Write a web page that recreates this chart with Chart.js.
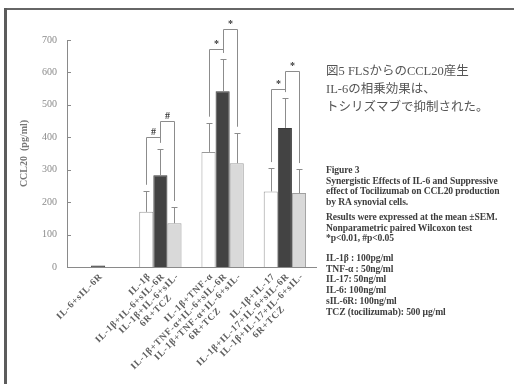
<!DOCTYPE html>
<html lang="ja">
<head>
<meta charset="utf-8">
<title>CCL20 production by RA synovial cells</title>
<script src="https://cdn.jsdelivr.net/npm/chart.js@4.4.1/dist/chart.umd.min.js"></script>
<style>
  html, body { margin: 0; padding: 0; background: #fff; }
  #slide { position: relative; width: 514px; height: 384px; overflow: hidden; background: #fff; }
  #wrap { position: absolute; left: 0; top: 0; width: 514px; height: 384px; }
  .frame-top { position: absolute; left: 4px; top: 8px; width: 510px; height: 2px; background: #666; }
  .frame-left { position: absolute; left: 4px; top: 8px; width: 3px; height: 376px; background: #5c5c5c; }
  .note { position: absolute; left: 326px; color: #3e3e3e; font-family: "Liberation Serif", "Times New Roman", serif; font-weight: bold; white-space: nowrap; }
  .jp { top: 62px; font-family: "Liberation Serif", "Noto Sans CJK JP", serif; font-weight: normal; font-size: 12.5px; line-height: 18px; color: #555; }
  .small { font-size: 9.6px; line-height: 10.7px; letter-spacing: -0.1px; }
</style>
</head>
<body>
<div id="slide">
  <div id="wrap"><canvas id="chart"></canvas></div>
  <div class="frame-top"></div>
  <div class="frame-left"></div>

  <div class="note jp">図5 FLSからのCCL20産生<br>IL-6の相乗効果は、<br>トシリズマブで抑制された。</div>

  <div class="note small" style="top:165px;">Figure 3<br>Synergistic Effects of IL-6 and Suppressive<br>effect of Tocilizumab on CCL20 production<br>by RA synovial cells.</div>
  <div class="note small" style="top:212px;">Results were expressed at the mean ±SEM.<br>Nonparametric paired Wilcoxon test<br>*p&lt;0.01, #p&lt;0.05</div>
  <div class="note small" style="top:253px;">IL-1β : 100pg/ml<br>TNF-α : 50ng/ml<br>IL-17: 50ng/ml<br>IL-6: 100ng/ml<br>sIL-6R: 100ng/ml<br>TCZ (tocilizumab): 500 μg/ml</div>
</div>

<script>
// Stimulation groups (one category each)
const groups = ['IL-6+sIL-6R', 'IL-1β', 'IL-1β+TNF-α', 'IL-1β+IL-17'];

// CCL20 (pg/ml), mean per condition
const meanBase = [null, 170, 355, 233];      // cytokine alone
const meanIL6  = [5, 283, 542, 429];         // + IL-6/sIL-6R
const meanTCZ  = [null, 135, 320, 228];      // + IL-6/sIL-6R + tocilizumab

// SEM (upper error bars)
const semBase = [null, 65, 90, 72];
const semIL6  = [0, 82, 100, 92];
const semTCZ  = [null, 50, 94, 74];

// Condition names written under each bar
const namesBase = [null, 'IL-1β', 'IL-1β+TNF-α', 'IL-1β+IL-17'];
const namesIL6  = ['IL-6+sIL-6R', 'IL-1β+IL-6+sIL-6R', 'IL-1β+TNF-α+IL-6+sIL-6R', 'IL-1β+IL-17+IL-6+sIL-6R'];
const namesTCZ  = [null, ['IL-1β+IL-6+sIL-', '6R+TCZ'], ['IL-1β+TNF-α+IL-6+sIL-', '6R+TCZ'], ['IL-1β+IL-17+IL-6+sIL-', '6R+TCZ']];

// Y axis ticks
const yTicks = [0, 100, 200, 300, 400, 500, 600, 700];

// Significance brackets: group, left series, right series, bracket height (pg/ml), mark
const sigGroup = [1, 1, 2, 2, 3, 3];
const sigFrom  = [0, 1, 0, 1, 0, 1];
const sigTo    = [1, 2, 1, 2, 1, 2];
const sigTop   = [400, 450, 673, 735, 550, 605];
const sigMark  = ['#', '#', '*', '*', '*', '*'];

const means = [meanBase, meanIL6, meanTCZ];
const sems  = [semBase, semIL6, semTCZ];
const names = [namesBase, namesIL6, namesTCZ];

const AXIS = '#8a8a8a';

function seg(ctx, x1, y1, x2, y2) {
  ctx.beginPath();
  ctx.moveTo(x1, y1);
  ctx.lineTo(x2, y2);
  ctx.stroke();
}

const extras = {
  id: 'extras',
  afterDraw(chart) {
    const ctx = chart.ctx;
    const y = chart.scales.y;
    const area = chart.chartArea;
    ctx.save();

    // inward tick marks on the value axis
    ctx.strokeStyle = AXIS;
    ctx.lineWidth = 1;
    yTicks.forEach(v => {
      const py = Math.round(y.getPixelForValue(v)) + 0.5;
      seg(ctx, area.left, py, area.left + 4, py);
    });

    // error bars (mean + SEM)
    ctx.strokeStyle = '#8c8c8c';
    means.forEach((arr, di) => {
      const meta = chart.getDatasetMeta(di);
      arr.forEach((m, i) => {
        const s = sems[di][i];
        if (m == null || !s) return;
        const bx = Math.round(meta.data[i].x) + 0.5;
        const yb = y.getPixelForValue(m);
        const yt = Math.round(y.getPixelForValue(m + s)) + 0.5;
        seg(ctx, bx, yb, bx, yt);
        seg(ctx, bx - 3, yt, bx + 3, yt);
      });
    });

    // significance brackets
    ctx.strokeStyle = '#8c8c8c';
    ctx.fillStyle = '#3a3a3a';
    ctx.font = 'bold 10px "Liberation Serif", serif';
    ctx.textAlign = 'center';
    ctx.textBaseline = 'middle';
    sigGroup.forEach((g, k) => {
      const a = sigFrom[k], b = sigTo[k];
      const xa = Math.round(chart.getDatasetMeta(a).data[g].x) + 0.5;
      const xb = Math.round(chart.getDatasetMeta(b).data[g].x) + 0.5;
      const top = Math.round(y.getPixelForValue(sigTop[k])) + 0.5;
      const endA = y.getPixelForValue(means[a][g] + sems[a][g]) - 6;
      const endB = y.getPixelForValue(means[b][g] + sems[b][g]) - 6;
      ctx.beginPath();
      ctx.moveTo(xa, endA);
      ctx.lineTo(xa, top);
      ctx.lineTo(xb, top);
      ctx.lineTo(xb, endB);
      ctx.stroke();
      ctx.fillText(sigMark[k], (xa + xb) / 2, top - 5);
    });

    // rotated condition names under each bar
    ctx.fillStyle = '#5e5e5e';
    ctx.font = 'bold 9.5px "Liberation Serif", serif';
    ctx.letterSpacing = '0.8px';
    ctx.textBaseline = 'middle';
    const lh = 10;
    names.forEach((arr, di) => {
      const meta = chart.getDatasetMeta(di);
      arr.forEach((nm, i) => {
        if (!nm) return;
        const lines = Array.isArray(nm) ? nm : [nm];
        const ax = meta.data[i].x + 3;
        const ay = area.bottom + 8;
        const w = Math.max(...lines.map(t => ctx.measureText(t).width));
        ctx.save();
        ctx.translate(ax, ay);
        ctx.rotate(-Math.PI / 4);
        if (lines.length === 1) {
          ctx.textAlign = 'right';
          ctx.fillText(lines[0], 0, 0);
        } else {
          ctx.textAlign = 'center';
          lines.forEach((t, j) => ctx.fillText(t, -w / 2, j * lh));
        }
        ctx.restore();
      });
    });

    ctx.restore();
  }
};

new Chart(document.getElementById('chart'), {
  type: 'bar',
  data: {
    labels: groups,
    datasets: [
      { label: 'base', data: meanBase, backgroundColor: '#ffffff', borderColor: '#9a9a9a', borderWidth: 1 },
      { label: '+IL-6/sIL-6R', data: meanIL6, backgroundColor: '#434343', borderColor: '#3a3a3a', borderWidth: 1 },
      { label: '+TCZ', data: meanTCZ, backgroundColor: '#d9d9d9', borderColor: '#a0a0a0', borderWidth: 1 }
    ]
  },
  options: {
    responsive: true,
    maintainAspectRatio: false,
    animation: false,
    events: [],
    layout: { padding: { left: 14, top: 40, right: 198, bottom: 117 } },
    datasets: { bar: { categoryPercentage: 0.68, barPercentage: 1 } },
    plugins: { legend: { display: false }, tooltip: { enabled: false } },
    scales: {
      x: {
        afterFit: s => { s.height = 0; },
        ticks: { display: false },
        grid: { display: false, drawTicks: false },
        border: { display: true, color: AXIS, width: 1 }
      },
      y: {
        min: 0,
        max: 700,
        afterFit: s => { s.width = 53; },
        afterBuildTicks: s => { s.ticks = yTicks.map(v => ({ value: v })); },
        ticks: {
          padding: 10,
          color: '#8a8a8a',
          font: { family: '"Liberation Serif", serif', size: 10 }
        },
        grid: { display: false, drawTicks: false },
        border: { display: true, color: AXIS, width: 1 },
        title: {
          display: true,
          text: 'CCL20  (pg/ml)',
          color: '#777',
          padding: 4,
          font: { family: '"Liberation Serif", serif', size: 10, weight: 'bold' }
        }
      }
    }
  },
  plugins: [extras]
});
</script>
</body>
</html>
